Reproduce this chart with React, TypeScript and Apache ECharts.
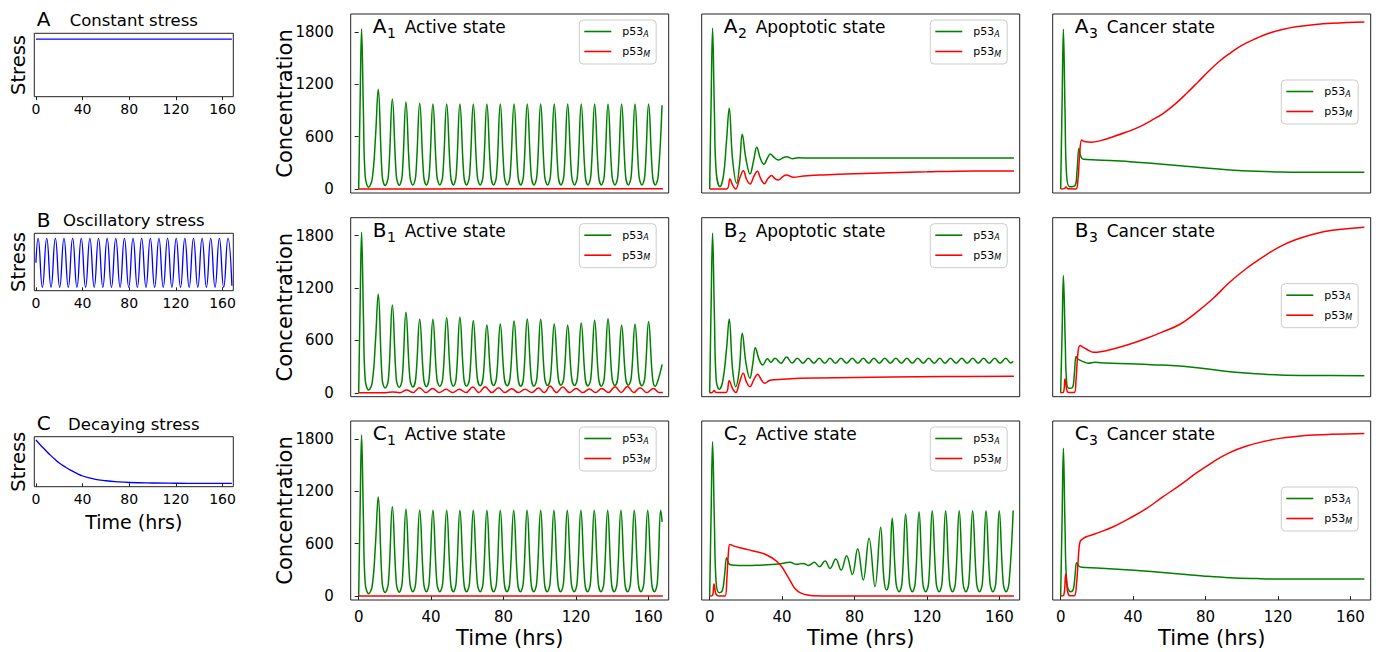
import React, { useEffect, useRef } from 'react';
import * as echarts from 'echarts';

const FONT = 'DejaVu Sans';
const GREEN = '#008000';
const RED = '#ff0000';
const BLUE = '#0000ff';

const timeTicks = [0, 40, 80, 120, 160];
const concTicks = [0, 600, 1200, 1800];

// ---- stress inputs ----
const stressConstant = [[0, 1], [168, 1]];
const stressOscillatory = [
  [0, 0.5], [1.85, 1], [5.55, 0], [9.25, 1], [12.95, 0], [16.65, 1], [20.35, 0], [24.05, 1], [27.75, 0],
  [31.45, 1], [35.15, 0], [38.85, 1], [42.55, 0], [46.25, 1], [49.95, 0], [53.65, 1], [57.35, 0],
  [61.05, 1], [64.75, 0], [68.45, 1], [72.15, 0], [75.85, 1], [79.55, 0], [83.25, 1], [86.95, 0],
  [90.65, 1], [94.35, 0], [98.05, 1], [101.75, 0], [105.45, 1], [109.15, 0], [112.85, 1], [116.55, 0],
  [120.25, 1], [123.95, 0], [127.65, 1], [131.35, 0], [135.05, 1], [138.75, 0], [142.45, 1], [146.15, 0],
  [149.85, 1], [153.55, 0], [157.25, 1], [160.95, 0], [164.65, 1], [168, 0.03]
];
const stressDecaying = [
  [0, 1], [4, 0.88], [8, 0.77], [12, 0.66], [16, 0.56], [20, 0.47], [25, 0.38], [30, 0.3], [35, 0.23],
  [40, 0.17], [50, 0.1], [60, 0.06], [70, 0.035], [80, 0.02], [100, 0.008], [120, 0.003], [140, 0.001], [168, 0]
];

// ---- A row (constant stress) ----
const a1P53A = [
  [0, 0], [0.8, 1000], [1.6, 1834], [2.6, 900], [3.6, 150], [5.5, 21], [7.5, 120], [9.3, 600], [10.8, 1143],
  [13.0, 150], [14.6, 40], [16.4, 150], [18.6, 1032], [20.8, 150], [22.4, 45], [24.0, 150], [26.1, 998],
  [28.3, 150], [29.9, 47], [31.5, 150], [33.7, 983], [35.9, 150], [37.4, 48], [38.9, 150], [41.0, 975],
  [43.2, 150], [44.8, 48], [46.4, 150], [48.6, 975], [50.8, 150], [52.3, 48], [53.8, 150], [55.9, 975],
  [58.1, 150], [59.6, 48], [61.2, 150], [63.3, 975], [65.5, 150], [67.1, 48], [68.7, 150], [70.8, 975],
  [73.0, 150], [74.5, 48], [76.1, 150], [78.2, 975], [80.4, 150], [82.0, 48], [83.6, 150], [85.8, 975],
  [88.0, 150], [89.5, 48], [91.0, 150], [93.1, 975], [95.3, 150], [96.8, 48], [98.4, 150], [100.5, 975],
  [102.7, 150], [104.3, 48], [105.9, 150], [108.0, 975], [110.2, 150], [111.7, 48], [113.3, 150], [115.4, 975],
  [117.6, 150], [119.2, 48], [120.8, 150], [122.9, 975], [125.1, 150], [126.6, 48], [128.2, 150], [130.3, 975],
  [132.5, 150], [134.0, 48], [135.6, 150], [137.7, 975], [139.9, 150], [141.5, 48], [143.1, 150], [145.2, 975],
  [147.4, 150], [148.9, 48], [150.5, 150], [152.6, 975], [154.8, 150], [156.4, 48], [158.0, 150], [160.1, 975],
  [162.3, 150], [163.8, 48], [165.4, 150], [167.5, 960]
];
const a1P53M = [[0, 0], [40, 2], [80, 3], [120, 3], [168, 3]];

const a2P53A = [
  [0, 0], [0.8, 1000], [1.6, 1842], [2.6, 900], [3.6, 200], [5.7, 27], [7.6, 150], [9.3, 550], [10.8, 925],
  [12.6, 350], [14.9, 66], [16.6, 300], [18.0, 627], [20.0, 350], [22.3, 173], [24.3, 330], [26.0, 479],
  [28.0, 350], [30.0, 284], [31.8, 350], [33.5, 402], [35.7, 360], [37.9, 333], [40.2, 355], [42.5, 371],
  [45.6, 348], [49, 358], [55, 356], [80, 356], [120, 356], [168, 356]
];
const a2P53M = [
  [0, 0], [9.4, 2], [11.2, 116], [12.8, 40], [14.4, 2], [16.5, 120], [18.6, 211], [20.4, 110], [22.3, 58],
  [24.3, 140], [26.3, 204], [28.2, 120], [30.2, 62], [32.2, 120], [34.2, 154], [36.0, 120], [37.9, 104],
  [40.2, 140], [42.5, 162], [46.2, 135], [52, 150], [62.7, 162], [80, 176], [99.6, 188], [120, 197],
  [136.4, 204], [168, 207]
];

const a3P53A = [
  [0, 0], [0.8, 1000], [1.5, 1830], [2.4, 900], [3.3, 150], [5.1, 27], [7.9, 40], [9.0, 200], [10.1, 467],
  [11.0, 380], [12.5, 341], [20, 333], [38.3, 314], [50, 295], [65.9, 268], [80, 240], [93.5, 219],
  [108, 204], [121, 196], [140, 193], [167.7, 192]
];
const a3P53M = [
  [0, 0], [2, 5], [3, 24], [4, 3], [8.4, 2], [9.5, 100], [10.5, 400], [11.6, 562], [13, 545], [17.1, 536],
  [22, 555], [29, 600], [36, 650], [43.8, 715], [50, 785], [56.7, 868], [63, 970], [69.6, 1097], [76, 1230],
  [82.4, 1364], [88, 1470], [93.5, 1555], [100, 1645], [108.2, 1727], [115, 1785], [123, 1830], [130, 1858],
  [139.5, 1883], [150, 1900], [167.7, 1914]
];

// ---- B row (oscillatory stress) ----
const b1P53A = [
  [0, 0], [0.8, 1000], [1.6, 1838], [2.6, 900], [3.6, 150], [5.5, 32], [7.5, 120], [9.3, 600], [10.8, 1128],
  [13.0, 150], [14.6, 55], [16.4, 150], [18.6, 1006], [20.8, 150], [22.4, 60], [24.0, 150], [26.1, 922],
  [28.3, 160], [29.9, 65], [31.5, 160], [33.7, 842], [35.9, 160], [37.4, 70], [38.9, 160], [41.0, 842],
  [43.2, 160], [44.8, 72], [46.4, 160], [48.6, 860], [50.8, 160], [52.3, 75], [53.8, 160], [55.9, 865],
  [58.1, 160], [59.6, 75], [61.2, 160], [63.3, 826], [65.5, 170], [67.1, 80], [68.7, 170], [70.8, 777],
  [73.0, 170], [74.5, 82], [76.1, 170], [78.2, 788], [80.4, 170], [82.0, 80], [83.6, 170], [85.8, 822],
  [88.0, 165], [89.5, 75], [91.0, 165], [93.1, 845], [95.3, 165], [96.8, 75], [98.4, 165], [100.5, 841],
  [102.7, 170], [104.3, 82], [105.9, 170], [108.0, 788], [110.2, 170], [111.7, 85], [113.3, 170], [115.4, 773],
  [117.6, 170], [119.2, 82], [120.8, 170], [122.9, 800], [125.1, 165], [126.6, 78], [128.2, 165], [130.3, 830],
  [132.5, 165], [134.0, 75], [135.6, 165], [137.7, 849], [139.9, 170], [141.5, 82], [143.1, 170], [145.2, 773],
  [147.4, 170], [148.9, 85], [150.5, 170], [152.6, 784], [154.8, 170], [156.4, 80], [158.0, 170], [160.1, 814],
  [162.3, 165], [163.8, 75], [165.4, 150], [167.6, 326]
];
const b1P53M = [
  [0, 0], [15, 1], [18.9, 10], [22.7, 1], [26.5, 32], [30, 2], [33.5, 58], [37.2, 2], [40.9, 50], [44.5, 2],
  [48.2, 39], [51.9, 2], [55.6, 39], [59.3, 2], [63.0, 65], [66.4, 2], [69.8, 70], [73.5, 2], [77.2, 58],
  [80.8, 2], [84.5, 47], [88.2, 2], [91.9, 39], [95.6, 2], [99.3, 54], [102.5, 2], [105.7, 77], [109.2, 2],
  [112.7, 65], [116.4, 2], [120.1, 50], [123.7, 2], [127.4, 43], [130.8, 2], [134.2, 50], [137.9, 2],
  [141.6, 70], [145, 2], [148.4, 73], [151.9, 2], [155.4, 58], [159.1, 2], [162.8, 50], [166, 2], [168, 3]
];

const b2P53A = [
  [0, 0], [0.8, 1000], [1.6, 1827], [2.6, 900], [3.6, 150], [5.3, 40], [7.2, 130], [9.3, 500], [10.8, 845],
  [12.6, 280], [14.4, 70], [16.3, 250], [18.0, 681], [20.1, 330], [22.2, 166], [23.8, 330], [25.2, 517],
  [27.3, 380], [29.3, 318], [31.9, 390], [33.8, 350], [36.1, 395], [39.3, 338], [42.5, 410], [45.5, 340],
  [48.4, 395], [51.5, 338], [54.5, 395], [57.5, 338], [60.5, 395], [63.5, 338], [66.4, 395], [69.5, 338],
  [72.5, 395], [75.6, 338], [78.7, 395], [81.8, 338], [84.8, 395], [87.8, 338], [90.7, 395], [93.7, 338],
  [96.7, 395], [99.8, 338], [102.8, 395], [105.9, 338], [108.9, 395], [111.9, 338], [114.9, 395], [118, 338],
  [121.0, 395], [124, 338], [127.1, 395], [130, 338], [133.0, 395], [136.1, 338], [139.2, 395], [142.2, 338],
  [145.3, 395], [148.3, 338], [151.3, 395], [154.3, 338], [157.4, 395], [160.4, 338], [163.5, 395],
  [166.3, 340], [167.6, 360]
];
const b2P53M = [
  [0, 0], [1.5, 5], [2.5, 25], [3.5, 3], [9, 3], [10.8, 139], [12.6, 50], [14.4, 2], [16.5, 120], [18.5, 223],
  [20.4, 120], [22.2, 70], [24.4, 150], [26.5, 212], [28.5, 150], [30.4, 109], [33, 140], [36, 150],
  [42.5, 158], [50, 166], [60, 170], [80, 175], [100, 180], [130, 185], [168, 189]
];

const b3P53A = [
  [0, 0], [0.8, 700], [1.5, 1342], [2.5, 600], [3.3, 120], [4.6, 51], [6.5, 60], [7.5, 200], [8.5, 414],
  [9.3, 390], [10.3, 376], [12, 360], [15.2, 338], [18.9, 350], [25, 340], [38.3, 333], [50, 322],
  [65.9, 307], [80, 275], [93.5, 242], [108, 218], [121, 204], [140, 198], [167.7, 196]
];
const b3P53M = [
  [0, 0], [1.5, 5], [2.4, 158], [3.5, 20], [4.5, 2], [7.5, 2], [8.5, 150], [9.5, 450], [10.7, 540],
  [12.5, 520], [15, 490], [18, 464], [22, 470], [29, 502], [38, 555], [47.5, 624], [56, 695], [65.9, 785],
  [75, 920], [84.3, 1082], [93, 1260], [102.7, 1426], [112, 1560], [121.1, 1674], [130, 1755],
  [139.5, 1816], [150, 1860], [167.7, 1896]
];

// ---- C row (decaying stress) ----
const c1P53A = [
  [0, 0], [0.8, 1000], [1.6, 1844], [2.6, 900], [3.6, 150], [5.5, 26], [7.5, 120], [9.3, 600], [10.8, 1138],
  [13.0, 150], [14.6, 40], [16.4, 150], [18.6, 1023], [20.8, 150], [22.4, 45], [24.0, 150], [26.1, 993],
  [28.3, 150], [29.9, 49], [31.5, 150], [33.7, 985], [35.9, 150], [37.4, 49], [38.9, 150], [41.0, 982],
  [43.2, 150], [44.8, 49], [46.4, 150], [48.6, 982], [50.8, 150], [52.3, 49], [53.8, 150], [55.9, 982],
  [58.1, 150], [59.6, 49], [61.2, 150], [63.3, 982], [65.5, 150], [67.1, 49], [68.7, 150], [70.8, 982],
  [73.0, 150], [74.5, 49], [76.1, 150], [78.2, 982], [80.4, 150], [81.9, 49], [83.4, 150], [85.6, 982],
  [87.8, 150], [89.3, 49], [90.9, 150], [93.0, 982], [95.2, 150], [96.7, 49], [98.3, 150], [100.5, 982],
  [102.6, 150], [104.1, 49], [105.7, 150], [107.8, 982], [110.0, 150], [111.5, 49], [113.1, 150], [115.2, 982],
  [117.4, 150], [119.0, 49], [120.6, 150], [122.7, 982], [124.9, 150], [126.4, 49], [128.0, 150], [130.1, 982],
  [132.3, 150], [133.8, 49], [135.4, 150], [137.5, 982], [139.6, 150], [141.1, 49], [142.7, 150], [144.8, 982],
  [147.0, 150], [148.5, 49], [150.1, 150], [152.2, 982], [154.4, 150], [155.9, 49], [157.5, 150], [159.6, 982],
  [161.8, 150], [163.3, 49], [164.9, 150], [166.8, 982], [167.6, 850]
];
const c1P53M = [[0, 0], [40, 2], [80, 2], [120, 2], [168, 2]];

const c2P53A = [
  [0, 0], [0.8, 950], [1.6, 1768], [2.6, 850], [3.6, 150], [5.3, 38], [7.0, 60], [8.3, 250], [9.4, 439],
  [10.6, 370], [12.1, 355], [16, 350], [20, 350], [26, 352], [32, 360], [38, 368], [44.3, 386], [48.0, 363],
  [51.7, 374], [54.5, 351], [57.8, 386], [60.6, 336], [63.7, 401], [66.5, 317], [69.6, 424], [72.6, 298],
  [75.6, 462], [78.8, 248], [81.7, 542], [84.8, 183], [88.0, 661], [91.3, 107], [94.4, 787], [96.2, 200],
  [97.7, 69], [99.2, 200], [100.8, 890], [102.9, 150], [104.6, 49], [106.2, 150], [108.2, 939], [110.3, 150],
  [111.9, 49], [113.5, 150], [115.6, 966], [117.7, 150], [119.3, 49], [120.9, 150], [122.9, 977], [125.1, 150],
  [126.7, 49], [128.3, 150], [130.3, 977], [132.5, 150], [134.1, 49], [135.7, 150], [137.8, 977], [139.9, 150],
  [141.5, 49], [143.1, 150], [145.2, 977], [147.4, 150], [149.0, 49], [150.6, 150], [152.6, 977], [154.8, 150],
  [156.4, 49], [158.0, 150], [159.9, 977], [162.1, 150], [163.7, 49], [165.3, 150], [167.6, 980]
];
const c2P53M = [
  [0, 0], [1.5, 5], [2.4, 137], [3.5, 20], [5, 2], [8.5, 2], [9.5, 200], [10.3, 480], [11.2, 592], [13, 575],
  [16.7, 553], [21, 532], [26, 508], [30, 485], [33.3, 450], [36, 415], [37.9, 382], [39.8, 335], [41.6, 278],
  [43, 228], [44.3, 183], [45.7, 130], [47.1, 88], [49, 52], [50.8, 31], [54, 12], [57.2, 4], [70, 2],
  [100, 2], [168, 2]
];

const c3P53A = [
  [0, 0], [0.8, 900], [1.5, 1692], [2.4, 800], [3.4, 150], [5.5, 49], [7.0, 80], [8.0, 250], [8.8, 382],
  [10, 345], [11.6, 329], [20, 322], [38.3, 298], [50, 280], [65.9, 252], [80, 228], [93.5, 210], [108, 200],
  [121, 195], [140, 195], [167.7, 195]
];
const c3P53M = [
  [0, 0], [1.7, 10], [2.8, 252], [3.8, 60], [5, 3], [7.5, 3], [8.8, 150], [9.8, 450], [10.7, 622], [12.5, 660],
  [15.2, 687], [22, 735], [29, 794], [38, 890], [47.5, 1004], [56, 1130], [65.9, 1271], [75, 1410],
  [84.3, 1538], [93, 1640], [102.7, 1718], [112, 1770], [121, 1806], [130, 1828], [139.5, 1844], [150, 1854],
  [167.7, 1863]
];

const stressPanels = [
  { letter: 'A', title: 'Constant stress', data: stressConstant, top: 33.3, height: 63.4, yMin: 0, yMax: 1.1, titleY: 26 },
  { letter: 'B', title: 'Oscillatory stress', data: stressOscillatory, top: 233.3, height: 57.4, yMin: -0.069, yMax: 1.102, titleY: 226.7 },
  { letter: 'C', title: 'Decaying stress', data: stressDecaying, top: 436.7, height: 50, yMin: -0.077, yMax: 1.077, titleY: 430 },
];

const rowLetters = ['A', 'B', 'C'];
const stateNames = [
  ['Active state', 'Apoptotic state', 'Cancer state'],
  ['Active state', 'Apoptotic state', 'Cancer state'],
  ['Active state', 'Active state', 'Cancer state'],
];
const greenData = [
  [a1P53A, a2P53A, a3P53A],
  [b1P53A, b2P53A, b3P53A],
  [c1P53A, c2P53A, c3P53A],
];
const redData = [
  [a1P53M, a2P53M, a3P53M],
  [b1P53M, b2P53M, b3P53M],
  [c1P53M, c2P53M, c3P53M],
];

const COL_LEFT = [350.7, 701.7, 1052.7];
const ROW_TOP = [14, 217.7, 421];
const PW = 318;
const PH = 179;
const S_LEFT = 34.3;
const S_W = 199;

function txt(x: number, y: number, text: string, fontSize: number, align = 'left', rotation = 0, extra: any = {}) {
  return {
    type: 'text', x, y, rotation, silent: true,
    style: { text, fontSize, fontFamily: FONT, fill: '#000', align, verticalAlign: 'middle', ...extra },
  };
}

export default function App() {
  const ref = useRef<HTMLDivElement>(null);
  useEffect(() => {
    const chart = echarts.init(ref.current!, null, { renderer: 'svg' });
    const grid: any[] = [];
    const xAxis: any[] = [];
    const yAxis: any[] = [];
    const series: any[] = [];
    const legend: any[] = [];
    const elements: any[] = [];
    const plain = (v: number) => String(v);

    // stress panels
    stressPanels.forEach((p, i) => {
      grid.push({ left: S_LEFT, top: p.top, width: S_W, height: p.height, show: true, borderColor: '#222', borderWidth: 1 });
      xAxis.push({
        gridIndex: i, type: 'value', min: -1.4, max: 169.2,
        axisLine: { show: false }, splitLine: { show: false },
        axisTick: { show: true, customValues: timeTicks, length: 3.5, lineStyle: { color: '#222' } },
        axisLabel: { show: true, customValues: timeTicks, formatter: plain, fontSize: 14, fontFamily: FONT, color: '#000', margin: 5 },
      });
      yAxis.push({ gridIndex: i, type: 'value', min: p.yMin, max: p.yMax, show: false });
      series.push({
        type: 'line', xAxisIndex: i, yAxisIndex: i, data: p.data, showSymbol: false, symbol: 'none',
        smooth: 0.5, lineStyle: { color: BLUE, width: 1.3 }, silent: true,
      });
      elements.push(txt(36.7, p.titleY - 7, p.letter, 20));
      elements.push(txt(S_LEFT + S_W / 2, p.titleY - 5.8, p.title, 16.5, 'center'));
      elements.push(txt(18, p.top + p.height / 2, 'Stress', 19.5, 'center', Math.PI / 2));
    });
    elements.push(txt(S_LEFT + S_W / 2, 522, 'Time (hrs)', 19, 'center'));

    // main panels
    for (let r = 0; r < 3; r++) {
      for (let c = 0; c < 3; c++) {
        const idx = grid.length;
        const left = COL_LEFT[c];
        const top = ROW_TOP[r];
        grid.push({ left, top, width: PW, height: PH, show: true, borderColor: '#222', borderWidth: 1 });
        const bottomRow = r === 2;
        xAxis.push({
          gridIndex: idx, type: 'value', min: -4.4, max: 171.2,
          axisLine: { show: false }, splitLine: { show: false },
          axisTick: { show: bottomRow, customValues: timeTicks, length: 4, lineStyle: { color: '#222' } },
          axisLabel: { show: bottomRow, customValues: timeTicks, formatter: plain, fontSize: 15, fontFamily: FONT, color: '#000', margin: 9 },
        });
        const leftCol = c === 0;
        yAxis.push({
          gridIndex: idx, type: 'value', min: -45, max: 2005,
          axisLine: { show: false }, splitLine: { show: false },
          axisTick: { show: leftCol, customValues: concTicks, length: 4, lineStyle: { color: '#222' } },
          axisLabel: { show: leftCol, customValues: concTicks, formatter: plain, fontSize: 15, fontFamily: FONT, color: '#000', margin: 17 },
        });
        series.push({
          name: 'p53A', type: 'line', xAxisIndex: idx, yAxisIndex: idx, data: greenData[r][c],
          showSymbol: false, symbol: 'none', smooth: 0.4, lineStyle: { color: GREEN, width: 1.5 }, itemStyle: { color: GREEN }, silent: true,
        });
        series.push({
          name: 'p53M', type: 'line', xAxisIndex: idx, yAxisIndex: idx, data: redData[r][c],
          showSymbol: false, symbol: 'none', smooth: 0.4, lineStyle: { color: RED, width: 1.5 }, itemStyle: { color: RED }, silent: true,
        });
        const legTop = c === 2 ? top + 66 : top + 6;
        legend.push({
          data: ['p53A', 'p53M'], orient: 'vertical', left: left + 228.6, top: legTop,
          icon: 'rect', itemWidth: 27, itemHeight: 1.6, itemGap: 8, padding: [6, 6, 6, 5],
          backgroundColor: '#fff', borderColor: '#cccccc', borderWidth: 1, borderRadius: 4,
          selectedMode: false,
          formatter: (name: string) => `{a|p53}{s|${name === 'p53A' ? 'A' : 'M'}}`,
          textStyle: {
            fontFamily: FONT, color: '#000', fontSize: 11,
            rich: {
              a: { fontFamily: FONT, fontSize: 11, color: '#000', padding: [0, 0, 0, 6] },
              s: { fontFamily: FONT, fontSize: 8, color: '#000', fontStyle: 'italic', padding: [5, 0, 0, 0] },
            },
          },
        });
        // panel title
        elements.push(txt(left + 22, top + 12.3, rowLetters[r], 20));
        elements.push(txt(left + 36.3, top + 19, String(c + 1), 14));
        elements.push(txt(left + 54, top + 13.4, stateNames[r][c], 17));
        if (leftCol) elements.push(txt(285, top + PH / 2, 'Concentration', 21, 'center', Math.PI / 2));
        if (bottomRow) elements.push(txt(left + PW / 2, 638, 'Time (hrs)', 21, 'center'));
      }
    }

    chart.setOption({
      animation: false,
      backgroundColor: '#fff',
      grid, xAxis, yAxis, series, legend,
      graphic: { elements },
    });
    return () => chart.dispose();
  }, []);
  return <div ref={ref} style={{ position: 'fixed', left: 0, top: 0, width: 1379, height: 652, background: '#fff' }} />;
}
